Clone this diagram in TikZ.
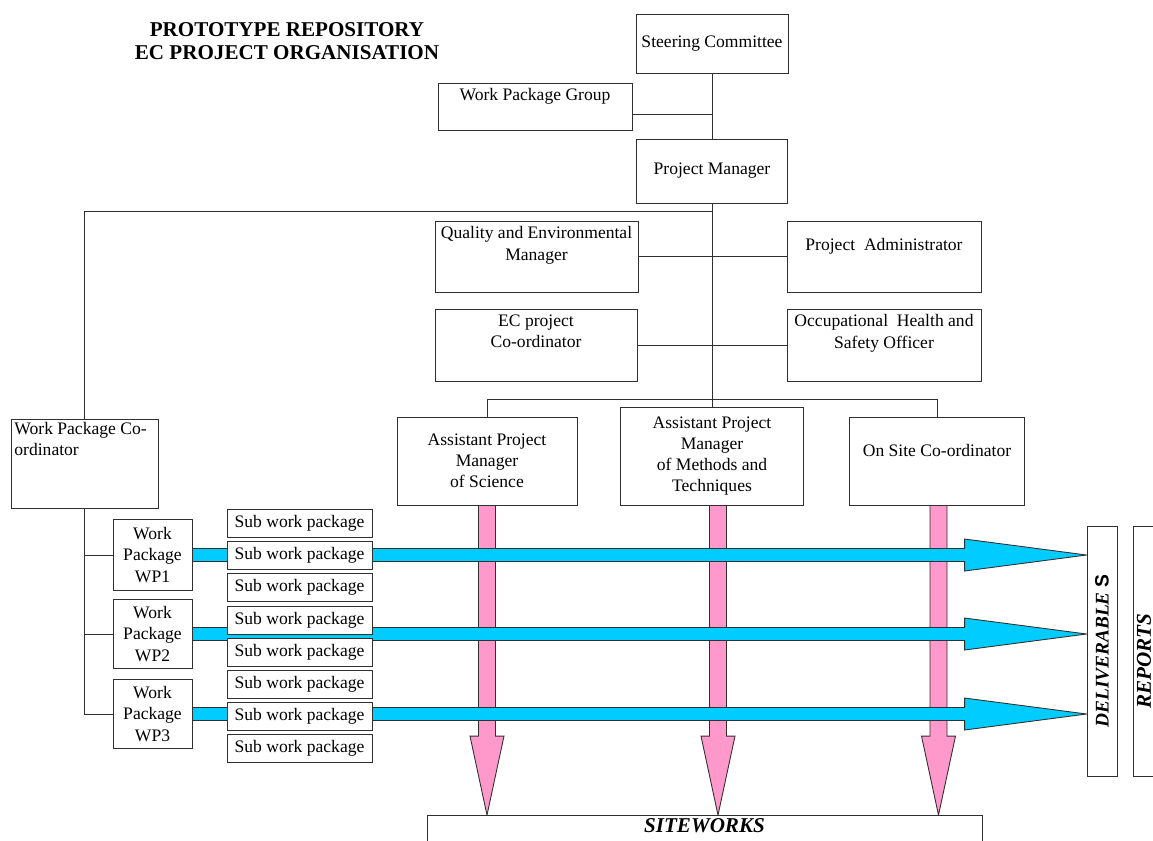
\documentclass[tikz,border=0pt]{standalone}
\usepackage{graphicx}
\usepackage{fontspec}
\setmainfont{Liberation Serif}
\newfontfamily\sanslet{Liberation Sans}
\usetikzlibrary{calc,backgrounds}

\definecolor{flowpink}{HTML}{FF99CC}
\definecolor{flowblue}{HTML}{00CCFF}
\definecolor{edgegrey}{HTML}{303030}

\tikzset{
  box/.style={draw=edgegrey, fill=white, rectangle, line width=0.5pt, align=center, inner sep=1pt},
  toptext/.style={label={[anchor=north, align=center]north:{#1}}},
  subbox/.style={box, minimum width=2.9cm, minimum height=0.56cm, inner sep=0pt},
  link/.style={draw=edgegrey, line width=0.5pt},
  pinkflow/.style={fill=flowpink, draw=edgegrey, line width=0.5pt},
  blueflow/.style={fill=flowblue, draw=edgegrey, line width=0.5pt},
  titletext/.style={align=center, font=\bfseries\fontsize{12}{13}\selectfont},
  sidetext/.style={font=\bfseries\itshape\fontsize{11}{13}\selectfont}
}

\begin{document}
\begin{tikzpicture}[x=0.02cm, y=-0.02cm, font=\fontsize{10}{12}\selectfont]

  % Fix the page to the size of the original picture
  \useasboundingbox (0,0) rectangle (1153,840);
  \clip (0,0) rectangle (1153,840);

  % Title in the upper left corner
  \node[titletext] (title) at (287,41.5) {PROTOTYPE REPOSITORY\\EC PROJECT ORGANISATION};

  % Top of the organisation
  \node[box, minimum width=3.04cm, minimum height=1.18cm] (steer) at (712,43.5) {Steering Committee};
  \node[box, minimum width=3.88cm, minimum height=0.94cm, toptext={Work Package Group}] (wpg) at (535,106.5) {};
  \node[box, minimum width=3.02cm, minimum height=1.28cm] (pm) at (712,171) {Project Manager};

  % Staff around the project manager
  \node[box, minimum width=4.06cm, minimum height=1.42cm, toptext={Quality and Environmental\\Manager}] (qem) at (536.5,256.5) {};
  \node[box, minimum width=3.88cm, minimum height=1.42cm,
        label={[anchor=north, yshift=-0.24cm]north:{Project\ \ Administrator}}] (padm) at (884,256.5) {};
  \node[box, minimum width=4.04cm, minimum height=1.44cm, toptext={EC project\\Co-ordinator}] (ecc) at (536,345) {};
  \node[box, minimum width=3.88cm, minimum height=1.44cm, toptext={Occupational\ \ Health and\\Safety Officer}] (ohs) at (884,345) {};

  % Assistant project managers
  \node[box, minimum width=3.6cm, minimum height=1.76cm] (apms) at (487,461) {Assistant Project\\Manager\\of Science};
  \node[box, minimum width=3.66cm, minimum height=1.96cm] (apmm) at (712,456) {Assistant Project\\Manager\\of Methods and\\Techniques};
  \node[box, minimum width=3.5cm, minimum height=1.76cm,
        label={[anchor=north, yshift=-0.44cm]north:On Site Co-ordinator}] (osc) at (937,461) {};

  % Work packages on the left
  \node[box, minimum width=2.94cm, minimum height=1.78cm,
        label={[anchor=north west, align=left, inner sep=2pt]north west:{Work Package Co-\\ordinator}}] (wpc) at (84.5,463.5) {};
  \node[box, minimum width=1.58cm, minimum height=1.42cm] (wp1) at (152.5,555) {Work\\Package\\WP1};
  \node[box, minimum width=1.58cm, minimum height=1.38cm] (wp2) at (152.5,634) {Work\\Package\\WP2};
  \node[box, minimum width=1.58cm, minimum height=1.38cm] (wp3) at (152.5,714) {Work\\Package\\WP3};

  % Sub work packages
  \foreach \i/\y in {1/523,2/555,3/587,4/620,5/652,6/684,7/716,8/748}
    \node[subbox] (sub\i) at (299.5,\y) {Sub work package};

  % Siteworks at the bottom, deliverables and reports on the right
  \node[box, minimum width=11.1cm, minimum height=0.9cm,
        label={[anchor=north, inner sep=2pt, font=\bfseries\itshape\fontsize{12}{14}\selectfont]north:SITEWORKS}] (site) at (704.5,838) {};
  \node[box, minimum width=0.6cm, minimum height=5cm, inner sep=0pt, sidetext] (deliv) at (1102,651)
    {\rotatebox{90}{DELIVERABLE {\sanslet\upshape S}}};
  \node[box, minimum width=0.8cm, minimum height=5cm] (reps) at (1153,651) {};
  \node[sidetext, font=\bfseries\itshape\fontsize{12}{14}\selectfont, inner sep=0pt] (repstext) at (1144,661) {\rotatebox{90}{REPORTS}};

  % Lines of the tree
  \draw[link] (steer.south) -- (pm.north);
  \coordinate (wpgjoin) at ($(wpg.east)+(0,7.5)$);
  \draw[link] (wpgjoin) -- (wpgjoin -| steer.south);
  \draw[link] (pm.south) -- (apmm.north);
  \coordinate (wpcjoin) at ($(pm.south)+(0,8)$);
  \draw[link] (wpcjoin) -| (wpc.north);
  \draw[link] (qem.east) -- (padm.west);
  \draw[link] (ecc.east) -- (ohs.west);
  \coordinate (apjoin) at ($(apmm.north)+(0,-7)$);
  \draw[link] (apms.north) |- (apjoin) -| (osc.north);
  \draw[link] (wpc.south) |- (wp3.west);
  \draw[link] (wpc.south |- wp1.west) -- (wp1.west);
  \draw[link] (wpc.south |- wp2.west) -- (wp2.west);

  \begin{scope}[on background layer]
    % Pink arrows from the assistants down to the siteworks
    \foreach \a/\dx in {apms/0,apmm/6,osc/1.5} {
      \coordinate (ptop) at ($(\a.south)+(\dx,0)$);
      \coordinate (ptip) at (ptop |- site.north);
      \filldraw[pinkflow] ($(ptop)+(-8.5,0)$) -- ($(ptip)+(-8.5,-79)$) -- ($(ptip)+(-17,-79)$) -- (ptip)
        -- ($(ptip)+(17,-79)$) -- ($(ptip)+(8.5,-79)$) -- ($(ptop)+(8.5,0)$) -- cycle;
    }
    % Blue arrows from the work packages to the deliverables
    \foreach \w in {wp1,wp2,wp3} {
      \coordinate (btip) at (\w.east -| deliv.west);
      \filldraw[blueflow] ($(\w.east)+(0,-6.5)$) -- ($(btip)+(-122,-6.5)$) -- ($(btip)+(-122,-16)$) -- (btip)
        -- ($(btip)+(-122,16)$) -- ($(btip)+(-122,6.5)$) -- ($(\w.east)+(0,6.5)$) -- cycle;
    }
  \end{scope}

\end{tikzpicture}
\end{document}
